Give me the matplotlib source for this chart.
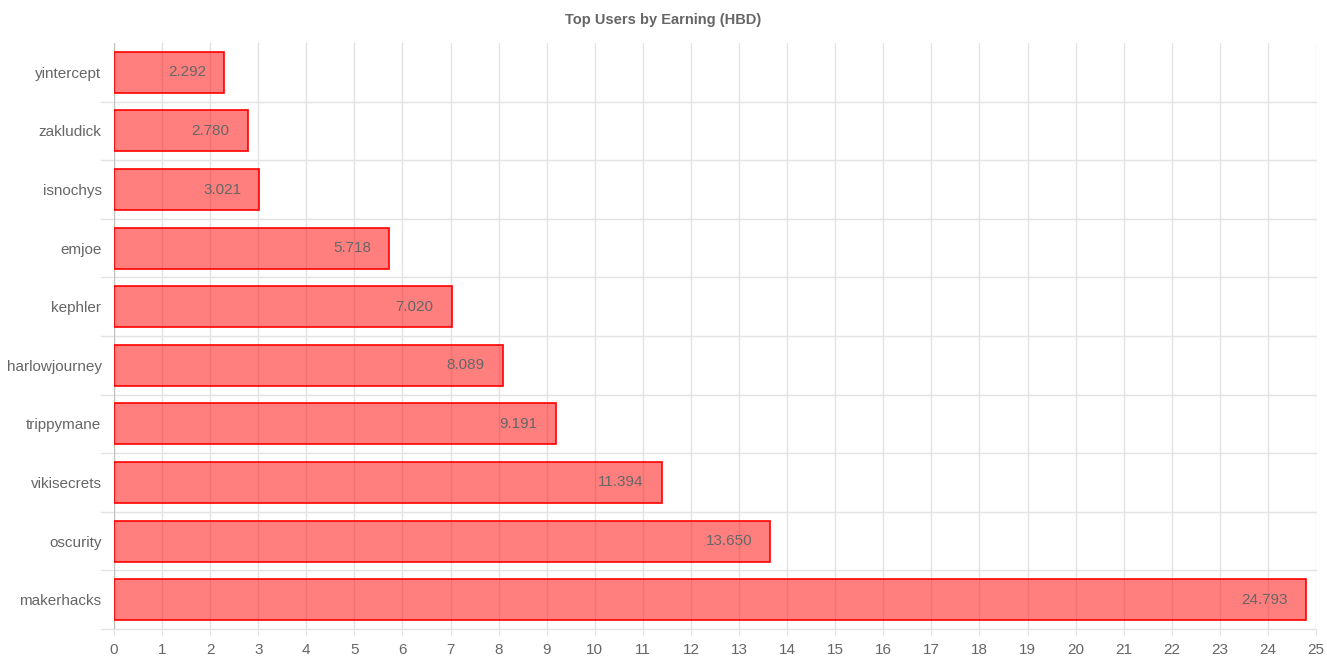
import matplotlib

matplotlib.use('Agg')
import matplotlib.pyplot as plt

# ----- data (bottom to top) -----
users = ['makerhacks', 'oscurity', 'vikisecrets', 'trippymane', 'harlowjourney',
         'kephler', 'emjoe', 'isnochys', 'zakludick', 'yintercept']
earning = [24.793, 13.650, 11.394, 9.191, 8.089, 7.020, 5.718, 3.021, 2.780, 2.292]
x_ticks = list(range(0, 26))

plt.rcParams['font.family'] = ['Liberation Sans', 'DejaVu Sans']
txt_color = '#666666'
grid_color = '#e3e3e3'

W, H = 1327, 663
fig = plt.figure(figsize=(W / 100, H / 100), dpi=100)
# axes box in pixels: left 114, right 1316, top 43, bottom 629
ax = fig.add_axes([114 / W, (H - 629) / H, (1316 - 114) / W, (629 - 43) / H])

ypos = list(range(len(users)))
ax.barh(ypos, earning, height=0.7, color=(1, 0, 0, 0.5), edgecolor='#ff0000',
        linewidth=1.2, zorder=3)

for y, v in zip(ypos, earning):
    ax.annotate('{:.3f}'.format(v), (v, y), xytext=(-13, 0), textcoords='offset points',
                ha='right', va='center', fontsize=11, color=txt_color, zorder=4)

ax.set_xlim(0, 25)
ax.set_ylim(-0.5, len(users) - 0.5)
ax.set_xticks(x_ticks)
ax.set_xticklabels([str(t) for t in x_ticks], fontsize=11, color=txt_color)
ax.set_yticks(ypos)
ax.set_yticklabels(users, fontsize=11, color=txt_color)
ax.tick_params(axis='x', length=5, color=grid_color, pad=5)
ax.tick_params(axis='y', length=0, pad=9)

# vertical grid
for t in x_ticks[1:]:
    ax.axvline(t, color=grid_color, linewidth=1, zorder=1)
# horizontal grid between categories, sticking out to the left like chart.js
for b in range(len(users)):
    ax.plot([-13 / 48.08, 25], [b - 0.5, b - 0.5], color=grid_color, linewidth=1,
            zorder=1, clip_on=False)
ax.axvline(0, color='#bfbfbf', linewidth=1, zorder=2)

for s in ax.spines.values():
    s.set_visible(False)

fig.text(0.5, 1 - 20 / H, 'Top Users by Earning (HBD)', ha='center',
         va='center', fontsize=10.5, fontweight='bold', color=txt_color)

fig.savefig('out.png', dpi=100)
